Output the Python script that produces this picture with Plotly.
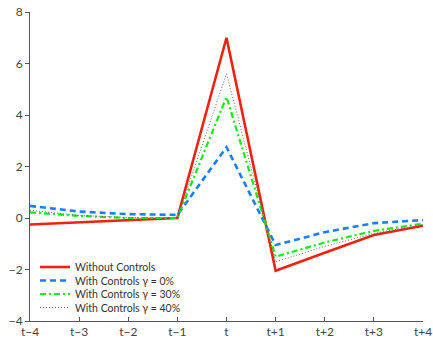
import plotly.graph_objects as go

x_labels = ["t\u22124", "t\u22123", "t\u22122", "t\u22121", "t", "t+1", "t+2", "t+3", "t+4"]
x_pos = [-4, -3, -2, -1, 0, 1, 2, 3, 4]
without_controls = [-0.25, -0.17, -0.08, 0.0, 7.0, -2.05, -1.35, -0.66, -0.3]
controls_0 = [0.47, 0.25, 0.15, 0.12, 2.75, -1.05, -0.55, -0.2, -0.08]
controls_30 = [0.22, 0.08, 0.0, 0.0, 4.7, -1.5, -0.95, -0.5, -0.22]
controls_40 = [0.3, 0.1, 0.02, 0.0, 5.6, -1.7, -1.1, -0.6, -0.25]
y_ticks = [-4, -2, 0, 2, 4, 6, 8]
y_labels = ["\u22124", "\u22122", "0", "2", "4", "6", "8"]

series = [
    ("Without Controls", without_controls, dict(color="#ee2211", width=2.6)),
    ("With Controls \u03b3 = 0%", controls_0, dict(color="#1a7fff", width=2.6, dash="6px,4px")),
    ("With Controls \u03b3 = 30%", controls_30, dict(color="#11ee11", width=2.2, dash="6px,3px,2px,3px")),
    ("With Controls \u03b3 = 40%", controls_40, dict(color="#666666", width=1, dash="1px,2px")),
]

W, H = 433, 342
ML, MR, MT, MB = 30, 10, 12, 21
PW, PH = W - ML - MR, H - MT - MB

def px_x(p):
    return (p - ML) / PW

def px_y(p):
    return (H - MB - p) / PH

fig = go.Figure()
shapes = []
annotations = []
legend_rows = [267, 280.5, 294, 307.5]
for (name, vals, line), row in zip(series, legend_rows):
    fig.add_trace(go.Scatter(x=x_pos, y=vals, mode="lines", name=name, line=line, showlegend=False))
    shapes.append(dict(type="line", xref="paper", yref="paper",
                       x0=px_x(40), x1=px_x(70), y0=px_y(row), y1=px_y(row), line=line))
    annotations.append(dict(text=name, xref="paper", yref="paper", x=px_x(73), y=px_y(row),
                            xanchor="left", yanchor="middle", showarrow=False,
                            font=dict(size=10.5, color="#333333")))

fig.update_layout(
    width=W, height=H,
    margin=dict(l=ML, r=MR, t=MT, b=MB),
    paper_bgcolor="white", plot_bgcolor="white",
    font=dict(family="Lato, sans-serif", size=12, color="#444444"),
    showlegend=False,
    shapes=shapes, annotations=annotations,
)
fig.update_xaxes(range=[-4, 4], tickvals=x_pos, ticktext=x_labels, showgrid=False, automargin=False,
                 zeroline=False, showline=True, linecolor="#555555", linewidth=1,
                 ticks="inside", ticklen=4, tickcolor="#555555", tickfont=dict(size=12))
fig.update_yaxes(range=[-4, 8], tickvals=y_ticks, ticktext=y_labels, automargin=False,
                 showgrid=False, zeroline=False, showline=True, linecolor="#555555", linewidth=1,
                 ticks="outside", ticklen=4, tickcolor="#555555", tickfont=dict(size=12))

fig.write_html("out.html", config={"displayModeBar": False},
               post_script="document.body.style.margin='0';document.body.style.overflow='hidden';")
